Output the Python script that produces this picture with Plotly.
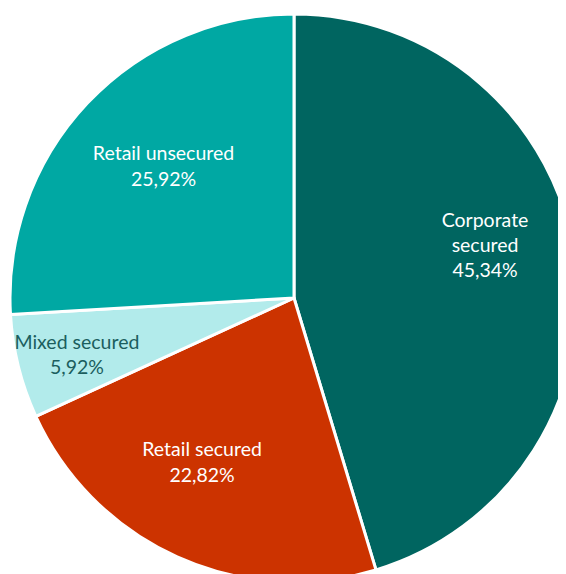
import plotly.graph_objects as go

categories = ["Corporate secured", "Retail secured", "Mixed secured", "Retail unsecured"]
display_labels = ["Corporate<br>secured", "Retail secured", "Mixed secured", "Retail unsecured"]
shares = [45.34, 22.82, 5.92, 25.92]
colors = ["#006560", "#CC3300", "#B2EBEB", "#00A8A3"]
text_colors = ["#FFFFFF", "#FFFFFF", "#1B5E5E", "#FFFFFF"]

common = dict(
    labels=categories,
    values=shares,
    sort=False,
    direction="clockwise",
    rotation=0,
)
full_domain = dict(x=[0.0, 1.0], y=[0.0, 1.0])

# filled slices
fig = go.Figure(go.Pie(
    **common,
    domain=full_domain,
    textinfo="none",
    marker=dict(colors=colors, line=dict(color="#FFFFFF", width=3)),
    hoverinfo="label+percent",
))

label_font = dict(family="Lato", size=19.5, color=text_colors)
transparent = dict(colors=["rgba(0,0,0,0)"] * len(shares), line=dict(width=0))
sp = "&nbsp;"

# label layer for the large slices (transparent ring pushes labels outward)
fig.add_trace(go.Pie(
    **common,
    domain=full_domain,
    hole=0.36,
    text=display_labels,
    texttemplate=[
        "%{text}<br>%{percent:.2%}<br>" + sp + "<br>" + sp,
        "%{text}" + sp * 5 + "<br>%{percent:.2%}" + sp * 5 + "<br>" + sp,
        "%{text}<br>%{percent:.2%}",
        sp * 4 + "%{text}<br>" + sp * 4 + "%{percent:.2%}",
    ],
    textposition=["inside", "inside", "none", "inside"],
    insidetextorientation="horizontal",
    insidetextfont=label_font,
    marker=transparent,
    hoverinfo="skip",
))

# label layer for the small slice (slightly narrower domain nudges it inward)
fig.add_trace(go.Pie(
    **common,
    domain=dict(x=[0.03, 1.0], y=[0.0, 1.0]),
    hole=0.2,
    text=display_labels,
    texttemplate="%{text}<br>%{percent:.2%}",
    textposition=["none", "none", "inside", "none"],
    insidetextorientation="horizontal",
    insidetextfont=label_font,
    marker=transparent,
    hoverinfo="skip",
))

fig.update_layout(
    width=600,
    height=600,
    margin=dict(l=2, r=30, t=6, b=26),
    showlegend=False,
    separators=",.",
    paper_bgcolor="#FFFFFF",
    plot_bgcolor="#FFFFFF",
    uniformtext=dict(minsize=19, mode="show"),
)

fig.write_html("out.html")
